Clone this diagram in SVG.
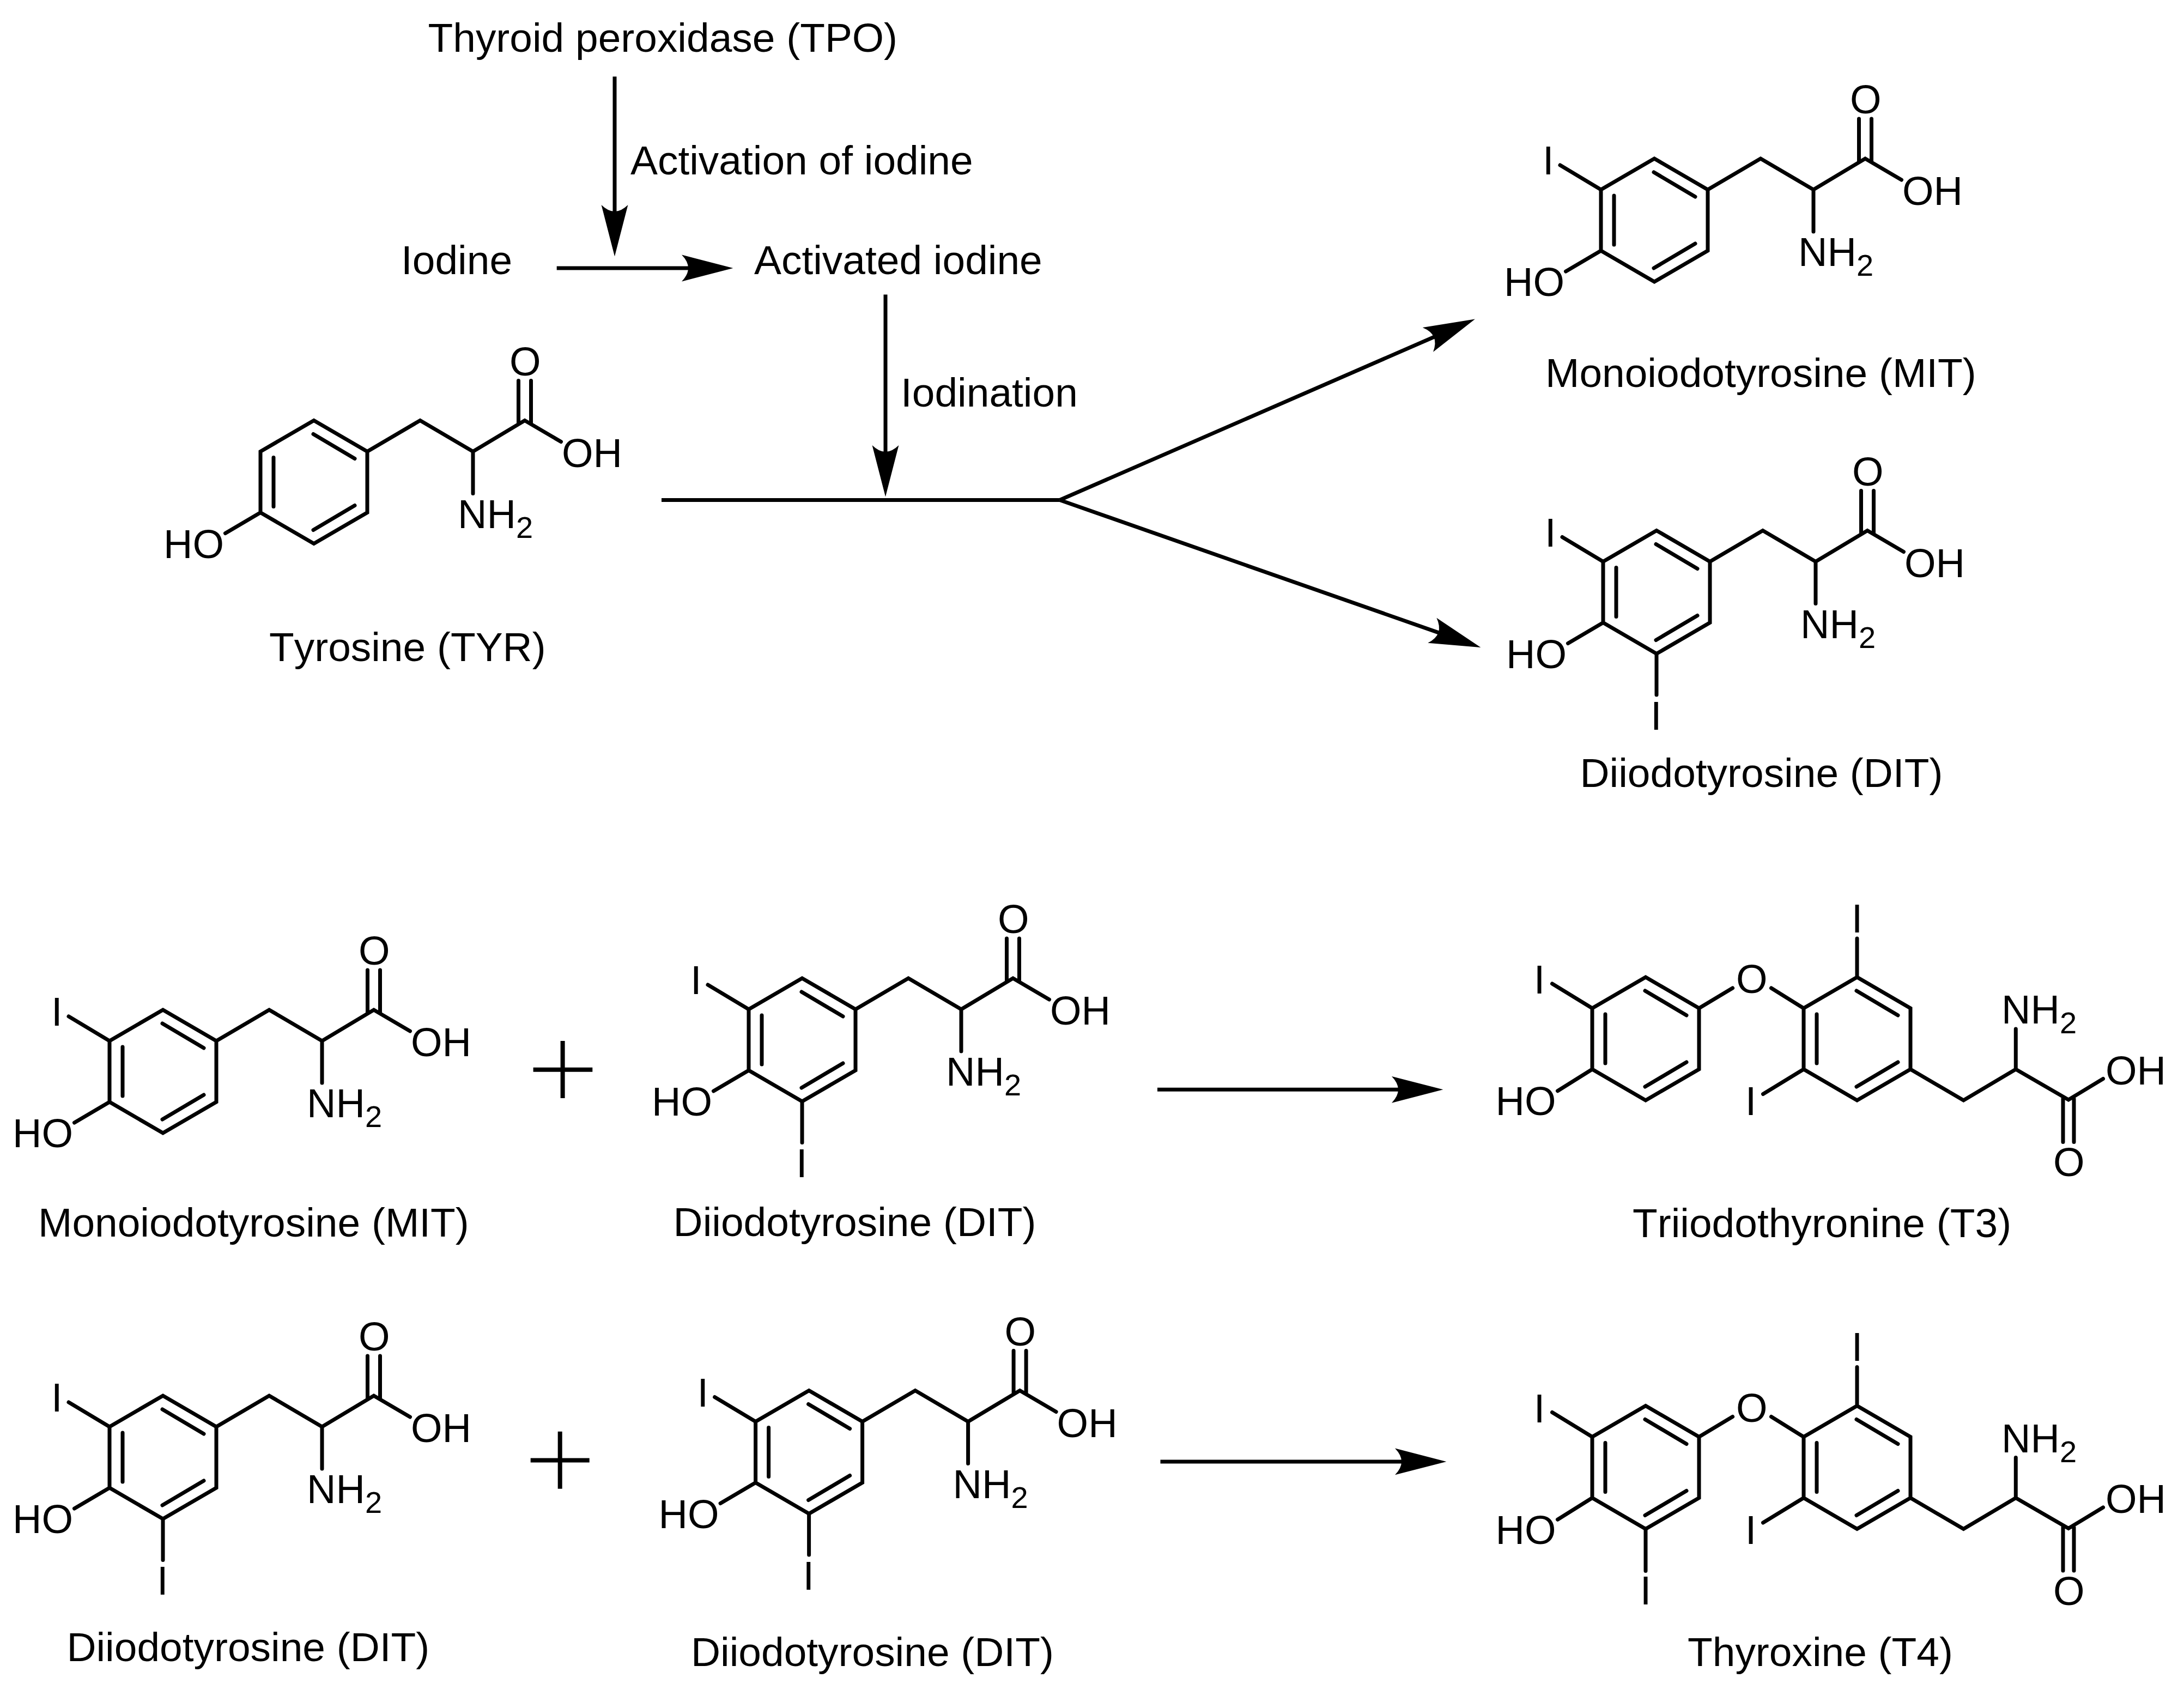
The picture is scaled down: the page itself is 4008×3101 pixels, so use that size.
<svg xmlns="http://www.w3.org/2000/svg" xmlns:xlink="http://www.w3.org/1999/xlink" width="4008" height="3101" viewBox="0 0 4008 3101">
<style>
text{font-family:"Liberation Sans",Arial,sans-serif;font-size:74px;fill:#000;font-kerning:none}
text.l{font-size:74.9px}
.sub{font-size:56px}
.b{fill:none;stroke:#000;stroke-width:7;stroke-linecap:round;stroke-linejoin:miter}
.c{fill:none;stroke:#000;stroke-width:7}
.p{fill:none;stroke:#000;stroke-width:8}
.a{marker-end:url(#head)}
</style>
<defs>
<marker id="head" markerUnits="userSpaceOnUse" markerWidth="95" markerHeight="50" viewBox="0 0 95 50" refX="20" refY="25" orient="auto">
<path d="M0 0.6L94.4 25L0 49.4Q12 37 12 25Q12 13 0 0.6Z" fill="#000"/>
</marker>
<path id="skel" class="b" d="M0 -113L98 -56V56L0 113L-98 56V-56ZM-74 -45V45M-1 -88L75 -43M-1 88L75 43M98 -56L195 -113L292 -56L387 -113L453.5 -74M292 -56V21M375.5 -108V-186M398.5 -108V-186M-98 56L-162.5 94"/>
<path id="iup" class="b" d="M-98 -56L-173 -101"/>
<path id="idown" class="b" d="M0 113V188.5"/>
<path id="thy" class="b" d="M0 -113L98 -56V56L0 113L-98 56V-56ZM-74 -45V45M-1 -88L75 -43M-1 88L75 43M98 -56L159.6 -93M-98 -56L-171.5 -101M-98 56L-161.5 95.7M230.5 -93L290 -56M388 -113L486 -56V56L388 113L290 56V-56ZM314 -45V45M387 -88L463 -43M387 88L463 43M388 -113V-184M290 56L215.5 101.5M486 56L583.4 113L679.3 56L776 112L839.5 73.4M679.3 56V-18M766 110V189.4M786 110V189.4"/>
</defs>
<rect width="4008" height="3101" fill="#fff"/>

<g id="connectors">
<line class="c a" x1="1128" y1="140.6" x2="1128" y2="396"/>
<line class="c a" x1="1021.7" y1="492" x2="1271" y2="492"/>
<line class="c a" x1="1625" y1="540.6" x2="1625" y2="837"/>
<path class="c" d="M1214 917.5H1944.8"/>
<line class="c a" x1="1944.8" y1="917.5" x2="2638.7" y2="615.3"/>
<line class="c a" x1="1944.8" y1="917.5" x2="2647.2" y2="1163.4"/>
<line class="c a" x1="2124" y1="1999.3" x2="2574" y2="1999.3"/>
<line class="c a" x1="2129.5" y1="2681.9" x2="2580" y2="2681.9"/>
</g>

<g id="label-tpo"><text class="l" x="785.5" y="95">Thyroid peroxidase (TPO)</text></g>
<g id="label-activation"><text class="l" x="1157" y="320">Activation of iodine</text></g>
<g id="label-iodine"><text class="l" x="736" y="503">Iodine</text></g>
<g id="label-activated"><text class="l" x="1384" y="503">Activated iodine</text></g>
<g id="label-iodination"><text class="l" x="1653" y="746">Iodination</text></g>

<g id="tyr">
<g transform="translate(576 884.5)">
<use href="#skel" xlink:href="#skel"/>
<text x="359" y="-196">O</text><text x="455" y="-28">OH</text><text x="264" y="84">NH<tspan class="sub" dy="18">2</tspan></text><text x="-276" y="139">HO</text>
</g>
<text class="l" x="494" y="1213">Tyrosine (TYR)</text>
</g>

<g id="mit-top">
<g transform="translate(3036 404)">
<use href="#skel" xlink:href="#skel"/><use href="#iup" xlink:href="#iup"/>
<text x="359" y="-196">O</text><text x="455" y="-28">OH</text><text x="264" y="84">NH<tspan class="sub" dy="18">2</tspan></text><text x="-276" y="139">HO</text><text x="-205" y="-84">I</text>
</g>
<text class="l" x="2836" y="709.5">Monoiodotyrosine (MIT)</text>
</g>

<g id="dit-top">
<g transform="translate(3040 1086.5)">
<use href="#skel" xlink:href="#skel"/><use href="#iup" xlink:href="#iup"/><use href="#idown" xlink:href="#idown"/>
<text x="359" y="-196">O</text><text x="455" y="-28">OH</text><text x="264" y="84">NH<tspan class="sub" dy="18">2</tspan></text><text x="-276" y="139">HO</text><text x="-205" y="-84">I</text><text x="-11" y="252">I</text>
</g>
<text class="l" x="2899.5" y="1444">Diiodotyrosine (DIT)</text>
</g>

<g id="mit-left">
<g transform="translate(299 1966)">
<use href="#skel" xlink:href="#skel"/><use href="#iup" xlink:href="#iup"/>
<text x="359" y="-196">O</text><text x="455" y="-28">OH</text><text x="264" y="84">NH<tspan class="sub" dy="18">2</tspan></text><text x="-276" y="139">HO</text><text x="-205" y="-84">I</text>
</g>
<text class="l" x="70" y="2268.5">Monoiodotyrosine (MIT)</text>
</g>

<g id="plus-1"><path class="p" d="M978.6 1962.7H1087.3M1032.6 1910V2015"/></g>

<g id="dit-mid">
<g transform="translate(1472 1908)">
<use href="#skel" xlink:href="#skel"/><use href="#iup" xlink:href="#iup"/><use href="#idown" xlink:href="#idown"/>
<text x="359" y="-196">O</text><text x="455" y="-28">OH</text><text x="264" y="84">NH<tspan class="sub" dy="18">2</tspan></text><text x="-276" y="139">HO</text><text x="-205" y="-84">I</text><text x="-11" y="252">I</text>
</g>
<text class="l" x="1235.6" y="2267.7">Diiodotyrosine (DIT)</text>
</g>

<g id="t3">
<g transform="translate(3020 1906)">
<use href="#thy" xlink:href="#thy"/>
<text x="166" y="-84">O</text><text x="377.7" y="-195.5">I</text><text x="-205.3" y="-83">I</text><text x="-275.4" y="140">HO</text><text x="182.7" y="140">I</text><text x="653" y="-28">NH<tspan class="sub" dy="18">2</tspan></text><text x="844" y="83.6">OH</text><text x="748" y="252">O</text>
</g>
<text class="l" x="2996" y="2269.5">Triiodothyronine (T3)</text>
</g>

<g id="dit-left">
<g transform="translate(299 2674)">
<use href="#skel" xlink:href="#skel"/><use href="#iup" xlink:href="#iup"/><use href="#idown" xlink:href="#idown"/>
<text x="359" y="-196">O</text><text x="455" y="-28">OH</text><text x="264" y="84">NH<tspan class="sub" dy="18">2</tspan></text><text x="-276" y="139">HO</text><text x="-205" y="-84">I</text><text x="-11" y="252">I</text>
</g>
<text class="l" x="122.4" y="3048">Diiodotyrosine (DIT)</text>
</g>

<g id="plus-2"><path class="p" d="M973.7 2679.4H1081.7M1027.7 2626.7V2731.7"/></g>

<g id="dit-right">
<g transform="translate(1484.6 2664.5)">
<use href="#skel" xlink:href="#skel"/><use href="#iup" xlink:href="#iup"/><use href="#idown" xlink:href="#idown"/>
<text x="359" y="-196">O</text><text x="455" y="-28">OH</text><text x="264" y="84">NH<tspan class="sub" dy="18">2</tspan></text><text x="-276" y="139">HO</text><text x="-205" y="-84">I</text><text x="-11" y="252">I</text>
</g>
<text class="l" x="1268" y="3057">Diiodotyrosine (DIT)</text>
</g>

<g id="t4">
<g transform="translate(3020 2692.5)">
<use href="#thy" xlink:href="#thy"/><path class="b" d="M0 113V190"/>
<text x="166" y="-84">O</text><text x="377.7" y="-195.5">I</text><text x="-205.3" y="-83">I</text><text x="-275.4" y="140">HO</text><text x="182.7" y="140">I</text><text x="653" y="-28">NH<tspan class="sub" dy="18">2</tspan></text><text x="844" y="83.6">OH</text><text x="748" y="252">O</text><text x="-10.3" y="251.5">I</text>
</g>
<text class="l" x="3097" y="3057.2">Thyroxine (T4)</text>
</g>
</svg>
